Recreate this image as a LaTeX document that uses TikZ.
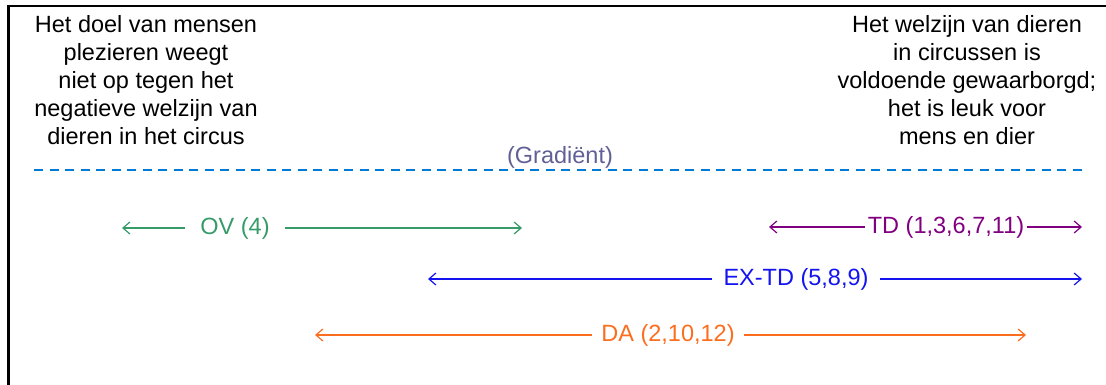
\documentclass[tikz,border=0pt]{standalone}
\usepackage{fontspec}
\setmainfont{Liberation Sans}
\usepackage{tikz}
\usetikzlibrary{arrows.meta}

\definecolor{ovgreen}{RGB}{55,155,105}
\definecolor{tdpurple}{RGB}{128,0,128}
\definecolor{exblue}{RGB}{20,20,240}
\definecolor{daorange}{RGB}{252,110,30}
\definecolor{gradgray}{RGB}{96,96,150}
\definecolor{dashblue}{RGB}{0,122,215}

\begin{document}
\begin{tikzpicture}[x=1pt, y=-1pt, font=\fontsize{23.5}{28}\selectfont,
    pole/.style={align=center, inner sep=0pt},
    span/.style={inner ysep=0pt},
    spanarrow/.style={-{Straight Barb[length=7pt,width=12pt]}, line width=1.2pt}]
        \useasboundingbox (0,0) rectangle (1106,385);

        % kader
        \draw[line width=2.7pt, line join=miter] (8.7,385) -- (8.7,6) -- (1106,6);

        % uitersten van de gradient
        \node[pole] (links) at (146,80) {Het doel van mensen\\plezieren weegt\\niet op tegen het\\negatieve welzijn van\\dieren in het circus};
        \node[pole] (rechts) at (967,80) {Het welzijn van dieren\\in circussen is\\voldoende gewaarborgd;\\het is leuk voor\\mens en dier};

        % gradient lijn
        \coordinate (gradL) at (34,170);
        \coordinate (gradR) at (1082,170);
        \draw[dashblue, line width=1.4pt, dash pattern=on 9pt off 6.5pt] (gradL) -- (gradR);
        \node[gradgray, inner sep=0pt] (grad) at (560,157) {(Gradiënt)};

        % OV
        \node[span, ovgreen, inner xsep=15pt] (ov) at (235,228) {OV (4)};
        \coordinate (ovL) at (122,228);
        \coordinate (ovR) at (522,228);
        \draw[spanarrow, ovgreen] (ov) -- (ovL);
        \draw[spanarrow, ovgreen] (ov) -- (ovR);

        % TD
        \node[span, tdpurple, inner xsep=3pt] (td) at (946,227) {TD (1,3,6,7,11)};
        \coordinate (tdL) at (769,227);
        \coordinate (tdR) at (1082,227);
        \draw[spanarrow, tdpurple] (td) -- (tdL);
        \draw[spanarrow, tdpurple] (td) -- (tdR);

        % EX-TD
        \node[span, exblue, inner xsep=11pt] (extd) at (796,279) {EX-TD (5,8,9)};
        \coordinate (extdL) at (428,279);
        \coordinate (extdR) at (1082,279);
        \draw[spanarrow, exblue] (extd) -- (extdL);
        \draw[spanarrow, exblue] (extd) -- (extdR);

        % DA
        \node[span, daorange, inner xsep=9pt] (da) at (668,335) {DA (2,10,12)};
        \coordinate (daL) at (315,335);
        \coordinate (daR) at (1026,335);
        \draw[spanarrow, daorange] (da) -- (daL);
        \draw[spanarrow, daorange] (da) -- (daR);

    \end{tikzpicture}
\end{document}
